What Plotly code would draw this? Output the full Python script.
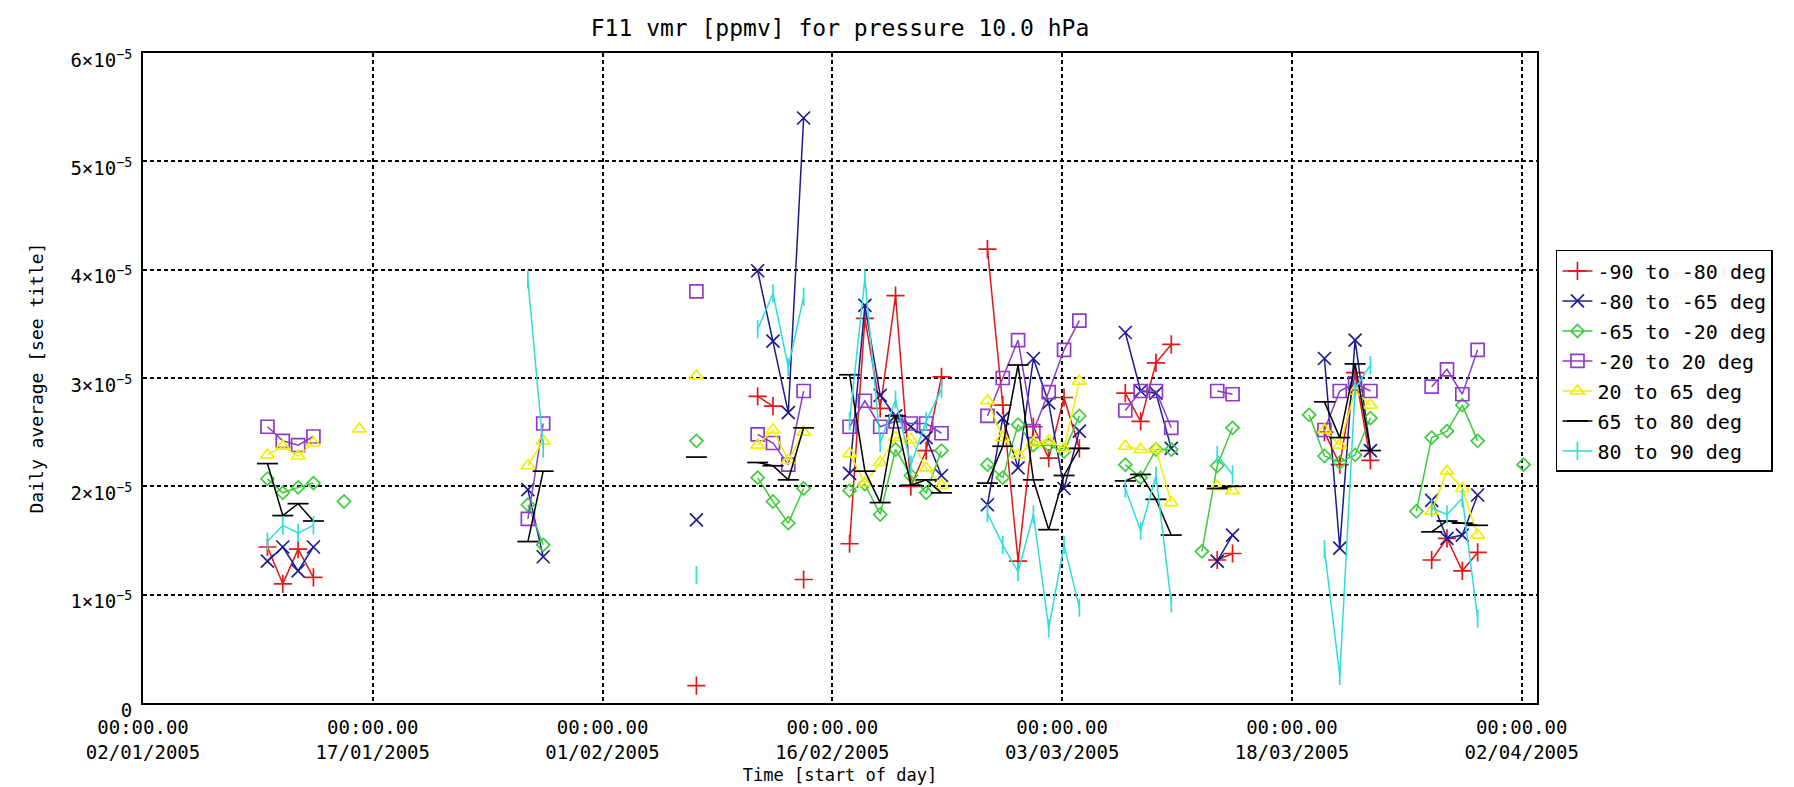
import datetime as dt
import plotly.graph_objects as go

# ---------------- data (values in units of 1e-5 ppmv) ----------------
dates = ["2005-01-10", "2005-01-11", "2005-01-12", "2005-01-13", "2005-01-15", "2005-01-16",
         "2005-01-27", "2005-01-28", "2005-02-07", "2005-02-11", "2005-02-12", "2005-02-13",
         "2005-02-14", "2005-02-17", "2005-02-18", "2005-02-19", "2005-02-20", "2005-02-21",
         "2005-02-22", "2005-02-23", "2005-02-26", "2005-02-27", "2005-02-28", "2005-03-01",
         "2005-03-02", "2005-03-03", "2005-03-04", "2005-03-07", "2005-03-08", "2005-03-09",
         "2005-03-10", "2005-03-12", "2005-03-13", "2005-03-14", "2005-03-19", "2005-03-20",
         "2005-03-21", "2005-03-22", "2005-03-23", "2005-03-26", "2005-03-27", "2005-03-28",
         "2005-03-29", "2005-03-30", "2005-04-02"]

lat_m90_m80 = [1.44, 1.10, 1.42, 1.16, None, None,
               None, None, 0.16, 2.83, 2.74, None,
               1.14, 1.47, 3.55, 2.72, 3.76, 2.00,
               2.33, 3.01, 4.19, 2.75, 1.31, 2.55,
               2.26, 2.82, 2.35, 2.86, 2.60, 3.14,
               3.31, None, 1.32, 1.38, None, 2.50,
               2.20, 3.05, 2.24, None, 1.32, 1.52,
               1.22, 1.39, None]
lat_m80_m65 = [1.31, 1.44, 1.22, 1.44, None, None,
               1.97, 1.35, 1.69, 3.99, 3.34, 2.68,
               5.40, 2.12, 3.67, 2.84, 2.65, 2.55,
               2.45, 2.10, 1.83, 2.63, 2.17, 3.18,
               2.77, 1.98, 2.51, 3.42, 2.88, 2.86,
               2.35, None, 1.31, 1.55, None, 3.18,
               1.43, 3.35, 2.33, None, 1.87, 1.52,
               1.55, 1.92, None]
lat_m65_m20 = [2.07, 1.94, 1.99, 2.03, 1.86, None,
               1.83, 1.46, 2.42, 2.08, 1.86, 1.66,
               1.98, 1.96, 2.02, 1.74, 2.34, 2.10,
               1.94, 2.33, 2.20, 2.08, 2.57, 2.38,
               2.38, 2.32, 2.65, 2.20, 2.08, 2.34,
               2.34, 1.40, 2.19, 2.54, 2.66, 2.28,
               2.22, 2.29, 2.63, 1.77, 2.45, 2.51,
               2.75, 2.42, 2.20]
lat_m20_20 = [2.55, 2.42, 2.38, 2.46, None, None,
              1.70, 2.58, 3.80, 2.48, 2.40, 2.20,
              2.88, 2.55, 2.79, 2.55, 2.60, 2.58,
              2.58, 2.49, 2.65, 3.00, 3.35, 2.51,
              2.87, 3.26, 3.53, 2.70, 2.88, 2.88,
              2.54, None, 2.88, 2.85, None, 2.52,
              2.88, 2.95, 2.88, None, 2.92, 3.08,
              2.85, 3.26, None]
lat_20_65 = [2.29, 2.37, 2.28, 2.40, None, 2.53,
             2.19, 2.42, 3.02, 2.38, 2.52, 2.24,
             2.50, 2.30, 2.03, 2.22, 2.45, 2.43,
             2.17, 2.01, 2.79, 2.45, 2.29, 2.40,
             2.42, 2.35, 2.97, 2.37, 2.34, 2.34,
             1.85, None, 2.00, 1.96, None, 2.52,
             2.38, 2.88, 2.75, None, 1.77, 2.14,
             1.98, 1.55, None]
lat_65_80 = [2.21, 1.73, 1.84, 1.68, None, None,
             1.49, 2.14, 2.27, 2.22, 2.19, 2.06,
             2.54, 3.03, 2.14, 1.85, 2.65, 2.01,
             2.06, 1.94, 2.03, 2.37, 3.12, 2.06,
             1.60, 2.10, 2.35, 2.05, 2.11, 1.88,
             1.55, None, 1.98, 2.00, None, 2.78,
             2.45, 3.13, 2.33, None, 1.58, 1.68,
             1.66, 1.64, None]
lat_80_90 = [1.49, 1.64, 1.57, 1.64, None, None,
             3.91, 2.35, 1.18, 3.45, 3.78, 3.10,
             3.75, 2.60, 3.92, 2.40, 2.80, 2.20,
             2.60, 2.90, 1.75, 1.46, 1.21, 1.74,
             0.69, 1.46, 0.88, 1.98, 1.59, 2.10,
             0.92, None, 2.29, 2.11, None, 1.42,
             0.25, 2.90, 3.12, None, 1.80, 1.74,
             1.89, 0.78, None]

series_names = ["-90 to -80 deg", "-80 to -65 deg", "-65 to -20 deg", "-20 to 20 deg",
                "20 to 65 deg", "65 to 80 deg", "80 to 90 deg"]
series_values = [lat_m90_m80, lat_m80_m65, lat_m65_m20, lat_m20_20, lat_20_65, lat_65_80, lat_80_90]
UNIT = 1e-5

x_tick_dates = ["2005-01-02", "2005-01-17", "2005-02-01", "2005-02-16",
                "2005-03-03", "2005-03-18", "2005-04-02"]
x_tick_text = ["00:00.00<br>02/01/2005", "00:00.00<br>17/01/2005", "00:00.00<br>01/02/2005",
               "00:00.00<br>16/02/2005", "00:00.00<br>03/03/2005", "00:00.00<br>18/03/2005",
               "00:00.00<br>02/04/2005"]
y_tick_vals = [0, 1, 2, 3, 4, 5, 6]
y_tick_text = ["0", "1×10<sup>−5</sup>", "2×10<sup>−5</sup>", "3×10<sup>−5</sup>",
               "4×10<sup>−5</sup>", "5×10<sup>−5</sup>", "6×10<sup>−5</sup>"]

# ---------------- styles ----------------
colors = ["#e01818", "#1c1c8c", "#3ccc3c", "#8c3cc8", "#f0f000", "#000000", "#30dcdc"]
symbols = ["cross-thin", "x-thin", "diamond-open", "square-open", "triangle-up-open",
           "line-ew", "line-ns"]
sizes = [13, 13, 10, 13, 12, 15, 13]
FONT = "DejaVu Sans Mono"


def segmented(ds, vs):
    xs, ys = [], []
    prev = None
    for d, v in zip(ds, vs):
        if v is None:
            continue
        day = dt.date.fromisoformat(d)
        if prev is not None and (day - prev).days > 1:
            xs.append(None)
            ys.append(None)
        xs.append(d + " 03:00")
        ys.append(v * UNIT)
        prev = day
    return xs, ys


fig = go.Figure()
for i, (name, vals) in enumerate(zip(series_names, series_values)):
    xs, ys = segmented(dates, vals)
    fig.add_trace(go.Scatter(
        x=xs, y=ys, name=name, mode="lines+markers", connectgaps=False,
        legendgroup=f"g{i}",
        line=dict(color=colors[i], width=1.5),
        marker=dict(symbol=symbols[i], size=sizes[i], color=colors[i],
                    line=dict(color=colors[i], width=1.7)),
    ))

fig.update_layout(
    width=1794, height=787,
    margin=dict(l=135, r=265, t=45, b=92),
    paper_bgcolor="white", plot_bgcolor="white",
    font=dict(family=FONT, size=17, color="black"),
    title=dict(text="F11 vmr [ppmv] for pressure 10.0 hPa", x=0.5, xref="paper",
               y=1 - 20 / 787, yref="container", yanchor="middle", xanchor="center",
               font=dict(family=FONT, size=23, color="black")),
    showlegend=True,
    legend=dict(x=1.0136, y=0.697, xanchor="left", yanchor="top",
                bordercolor="black", borderwidth=1.5, bgcolor="white",
                font=dict(family=FONT, size=20, color="black"),
                tracegroupgap=1, itemwidth=30),
)
fig.update_xaxes(
    type="date", range=["2005-01-02", "2005-04-03"],
    tickmode="array", tickvals=x_tick_dates, ticktext=x_tick_text,
    tickfont=dict(family=FONT, size=19, color="black"), tickangle=0,
    ticklabelstandoff=6,
    showgrid=True, gridcolor="black", gridwidth=1.5, griddash="4px,3px",
    showline=True, linecolor="black", linewidth=2, mirror=True,
    ticks="", zeroline=False,
    title=dict(text="Time [start of day]", font=dict(family=FONT, size=17), standoff=8),
)
fig.update_yaxes(
    range=[0, 6e-5],
    tickmode="array", tickvals=[v * UNIT for v in y_tick_vals], ticktext=y_tick_text,
    tickfont=dict(family=FONT, size=19, color="black"),
    ticklabelstandoff=5, ticklabelshift=7,
    showgrid=True, gridcolor="black", gridwidth=1.5, griddash="4px,3px",
    showline=True, linecolor="black", linewidth=2, mirror=True,
    ticks="", zeroline=False,
    title=dict(text="Daily average [see title]", font=dict(family=FONT, size=18), standoff=22),
)

fig.write_html("out.html")
